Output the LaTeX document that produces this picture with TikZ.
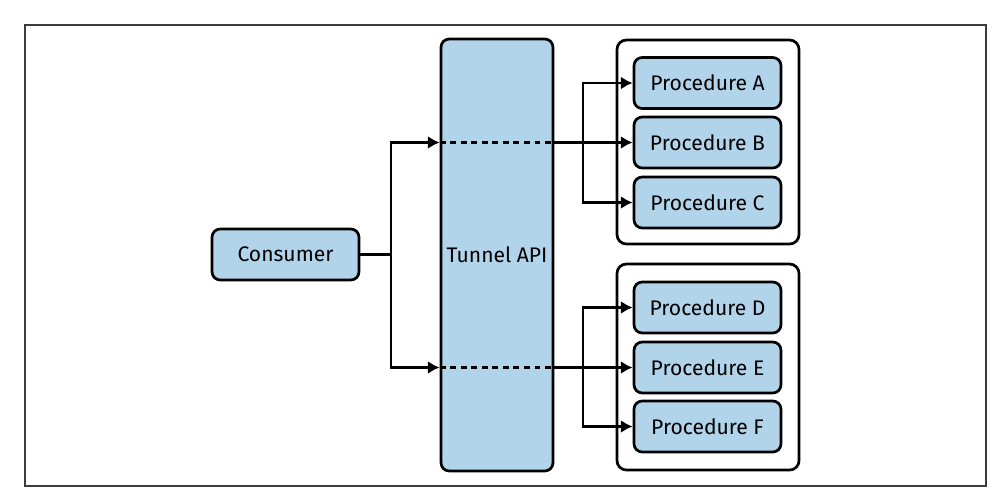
\documentclass[tikz,border=0pt]{standalone}
\usepackage{fontspec}
\setmainfont{Fira Sans}
\usepackage{tikz}
\usetikzlibrary{arrows.meta, calc, positioning}
\definecolor{procblue}{RGB}{178, 212, 234}
\definecolor{framegray}{RGB}{60, 60, 60}

\tikzset{
	box/.style={draw, line width=2.3pt, rounded corners=7pt, fill=procblue,
		minimum width=147*0.03cm, minimum height=51*0.03cm,
		font=\fontsize{18}{21}\selectfont, inner sep=0pt},
	group/.style={draw, line width=2.3pt, rounded corners=8pt,
		minimum width=182*0.03cm, inner sep=0pt},
	link/.style={line width=2.3pt},
	feed/.style={link, -{Latex[length=10pt, width=11pt]}}
}

\begin{document}
\begin{tikzpicture}[x=0.03cm,y=-0.03cm]
	
	% page and frame
	\useasboundingbox (0,0) rectangle (1005,499);
	\draw[framegray, line width=1.2pt] (25,25) rectangle (986,486);
	
	% groups of procedures
	\node[group, minimum height=204*0.03cm] (grpone) at (708,142) {};
	\node[group, minimum height=206*0.03cm] (grptwo) at (708,367) {};
	
	% nodes
	\node[box] (con) at (285.5,254.5) {Consumer};
	\node[box, minimum width=112*0.03cm, minimum height=432*0.03cm] (api) at (497,255) {Tunnel API};
	\node[box] (pa) at (707.5,83) {Procedure A};
	\node[box] (pb) at (707.5,142.5) {Procedure B};
	\node[box] (pc) at (707.5,202.5) {Procedure C};
	\node[box] (pd) at (707.5,307.5) {Procedure D};
	\node[box] (pe) at (707.5,367.5) {Procedure E};
	\node[box] (pf) at (707.5,426.5) {Procedure F};
	
	% branch points
	\coordinate (split) at (391,254.5);
	\coordinate (brone) at (583,142.5);
	\coordinate (brtwo) at (583,367.5);
	
	% consumer into the tunnel
	\draw[link] (con.east) -- (split);
	\draw[feed] (split) |- (api.west |- pb.west);
	\draw[feed] (split) |- (api.west |- pe.west);
	
	% through the tunnel
	\foreach \p in {pb, pe}{
		\draw[link, dash pattern=on 5pt off 4pt] (api.west |- \p.west) -- (api.east |- \p.west);
		\draw[feed] (api.east |- \p.west) -- (\p.west);
	}
	
	% fan out to procedures
	\foreach \br/\p in {brone/pa, brone/pc, brtwo/pd, brtwo/pf}{
		\draw[feed] (\br) |- (\p.west);
	}
	
\end{tikzpicture}
\end{document}
